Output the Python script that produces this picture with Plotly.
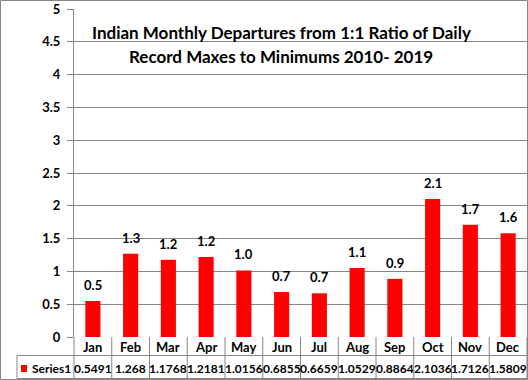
import plotly.graph_objects as go

months = ["Jan", "Feb", "Mar", "Apr", "May", "Jun", "Jul", "Aug", "Sep", "Oct", "Nov", "Dec"]
series1 = [0.5491, 1.268, 1.1768, 1.2181, 1.0156, 0.6855, 0.6659, 1.0529, 0.8864, 2.1036, 1.7126, 1.5809]
series1_text = ["0.5491", "1.268", "1.1768", "1.2181", "1.0156", "0.6855", "0.6659", "1.0529", "0.8864", "2.1036", "1.7126", "1.5809"]
series_name = "Series1"
title_lines = ["Indian Monthly Departures from 1:1 Ratio of Daily",
               "Record Maxes to Minimums 2010- 2019"]
y_ticks = [0, 0.5, 1, 1.5, 2, 2.5, 3, 3.5, 4, 4.5, 5]
y_ticklabels = ["0", "0.5", "1", "1.5", "2", "2.5", "3", "3.5", "4", "4.5", "5"]

W, H = 528, 380
L, R, T, B = 74, 1, 9, 43
PW = W - L - R
PH = H - T - B
GRAY = "#868686"
FONT = "Lato"


def px(x):
    return (x - L) / PW


def py(y):
    return (H - B - y) / PH


fig = go.Figure()
fig.add_trace(go.Bar(x=months, y=series1, name=series_name, marker=dict(color="#FF0000", line=dict(width=0))))

annotations = []
# data labels
for m, v in zip(months, series1):
    annotations.append(dict(x=m, y=v, xref="x", yref="y", text=f"{v:.1f}", showarrow=False,
                            yanchor="bottom", yshift=6,
                            font=dict(family=FONT, size=13, color="#000000", weight="bold")))
# title
for i, (line, yc) in enumerate(zip(title_lines, [33, 56])):
    annotations.append(dict(x=px(281), y=py(yc), xref="paper", yref="paper", text=line, showarrow=False,
                            xanchor="center", yanchor="middle",
                            font=dict(family=FONT, size=17, color="#000000", weight="bold")))
# table
n = len(months)
for i, (m, t) in enumerate(zip(months, series1_text)):
    xc = (i + 0.5) / n
    annotations.append(dict(x=xc, y=py(347), xref="paper", yref="paper", text=m, showarrow=False,
                            xanchor="center", yanchor="middle",
                            font=dict(family=FONT, size=13, color="#000000", weight="bold")))
    annotations.append(dict(x=xc, y=py(368), xref="paper", yref="paper", text=t, showarrow=False,
                            xanchor="center", yanchor="middle",
                            font=dict(family=FONT, size=12, color="#000000", weight="bold")))
annotations.append(dict(x=px(30), y=py(368), xref="paper", yref="paper", text=series_name, showarrow=False,
                        xanchor="left", yanchor="middle",
                        font=dict(family=FONT, size=12, color="#000000", weight="bold")))

shapes = []
lw = dict(color=GRAY, width=1)
# table horizontal lines
shapes.append(dict(type="line", xref="paper", yref="paper", x0=0, x1=1, y0=py(355.5), y1=py(355.5), line=lw))
shapes.append(dict(type="line", xref="paper", yref="paper", x0=px(17), x1=0, y0=py(355.5), y1=py(355.5), line=lw))
shapes.append(dict(type="line", xref="paper", yref="paper", x0=px(17), x1=1, y0=py(378.5), y1=py(378.5), line=lw))
# table vertical lines
for k in range(n + 1):
    shapes.append(dict(type="line", xref="paper", yref="paper", x0=k / n, x1=k / n, y0=0, y1=py(378.5), line=lw))
shapes.append(dict(type="line", xref="paper", yref="paper", x0=px(17), x1=px(17), y0=py(355.5), y1=py(378.5), line=lw))
# legend key
shapes.append(dict(type="rect", xref="paper", yref="paper", x0=px(21), x1=px(27), y0=py(372), y1=py(365),
                   fillcolor="#FF0000", line=dict(width=0)))
# outer border
shapes.append(dict(type="rect", xref="paper", yref="paper", x0=px(0.5), x1=px(527.5), y0=py(379.5), y1=py(0.5),
                   line=lw, fillcolor="rgba(0,0,0,0)"))

fig.update_layout(
    width=W, height=H,
    margin=dict(l=L, r=R, t=T, b=B, pad=0),
    paper_bgcolor="white", plot_bgcolor="white",
    showlegend=False,
    bargap=0.6,
    annotations=annotations,
    shapes=shapes,
    font=dict(family=FONT, color="#000000"),
)
fig.update_xaxes(showticklabels=False, showgrid=False, showline=False, ticks="", zeroline=False,
                 range=[-0.5, n - 0.5])
fig.update_yaxes(range=[0, 5], tickvals=y_ticks, ticktext=y_ticklabels, showgrid=True, gridcolor=GRAY,
                 gridwidth=1, showline=True, linecolor=GRAY, linewidth=1, ticks="outside", ticklen=6,
                 tickcolor=GRAY, zeroline=False, ticklabelstandoff=4,
                 tickfont=dict(family=FONT, size=13, color="#000000", weight="bold"))

fig.write_html("out.html", config={"displayModeBar": False},
               post_script="document.body.style.margin='0';document.body.style.padding='0';"
                           "document.body.style.overflow='hidden';")
